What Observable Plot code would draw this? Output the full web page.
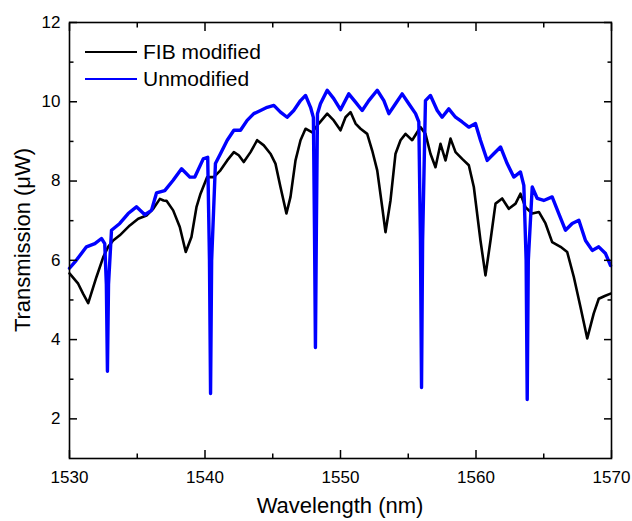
<!DOCTYPE html>
<html><head><meta charset="utf-8">
<script src="https://cdn.jsdelivr.net/npm/d3@7"></script>
<script src="https://cdn.jsdelivr.net/npm/@observablehq/plot@0.6"></script>
<style>body{margin:0;background:#fff;} #chart{width:632px;height:521px;}</style>
</head><body><div id="chart"></div>
<script>
// FIB modified (black)
const fibWl = [1530.0,1530.64,1531.0,1531.38,1531.99,1532.49,1532.85,1533.22,1533.71,1534.45,1535.07,1535.68,1536.18,1536.67,1536.94,1537.16,1537.65,1538.14,1538.58,1539.0,1539.37,1539.67,1540.16,1540.65,1541.14,1541.64,1542.13,1542.49,1542.86,1543.36,1543.85,1544.34,1544.83,1545.2,1545.57,1546.01,1546.31,1546.68,1547.05,1547.42,1547.91,1548.4,1549.02,1549.5,1550.0,1550.37,1550.74,1551.11,1551.48,1551.97,1552.34,1552.71,1553.08,1553.32,1553.69,1554.06,1554.43,1554.8,1555.29,1555.66,1555.9,1556.27,1556.64,1557.01,1557.38,1557.75,1558.12,1558.49,1558.98,1559.47,1559.84,1560.33,1560.7,1561.07,1561.44,1561.93,1562.42,1562.92,1563.28,1563.65,1564.15,1564.64,1565.13,1565.62,1566.24,1566.73,1567.22,1567.71,1568.21,1568.69,1569.06,1569.5,1569.93];
const fibT  = [5.67,5.41,5.16,4.92,5.58,6.08,6.34,6.50,6.63,6.88,7.05,7.13,7.30,7.55,7.51,7.50,7.26,6.84,6.21,6.59,7.34,7.68,8.10,8.10,8.27,8.52,8.73,8.65,8.48,8.73,9.03,8.90,8.69,8.44,7.85,7.18,7.60,8.52,9.03,9.32,9.23,9.45,9.70,9.53,9.28,9.61,9.74,9.45,9.32,9.19,8.77,8.27,7.34,6.71,7.51,8.69,9.03,9.19,9.03,9.23,9.36,9.19,8.69,8.35,8.94,8.52,9.07,8.73,8.56,8.40,7.85,6.50,5.62,6.50,7.43,7.56,7.30,7.43,7.68,7.34,7.18,7.22,6.93,6.46,6.34,6.21,5.58,4.82,4.03,4.66,5.03,5.10,5.16];

// Unmodified (blue)
const unmodWl = [1530.0,1530.5,1531.25,1531.87,1532.36,1532.6,1532.72,1532.8,1532.88,1533.1,1533.71,1534.33,1534.94,1535.56,1536.05,1536.42,1537.03,1537.65,1538.27,1538.88,1539.25,1539.87,1540.2,1540.33,1540.41,1540.49,1540.77,1541.14,1541.64,1542.13,1542.62,1543.11,1543.6,1544.1,1544.59,1545.08,1545.57,1546.06,1546.55,1547.05,1547.42,1547.79,1548.0,1548.08,1548.15,1548.22,1548.3,1548.52,1549.02,1549.5,1550.0,1550.61,1551.11,1551.6,1552.09,1552.71,1553.2,1553.57,1554.06,1554.55,1555.04,1555.54,1555.78,1555.9,1555.98,1556.06,1556.27,1556.64,1557.14,1557.5,1557.99,1558.49,1558.98,1559.47,1559.96,1560.33,1560.83,1561.31,1561.81,1562.3,1562.79,1563.28,1563.53,1563.7,1563.78,1563.86,1564.15,1564.52,1565.0,1565.62,1566.11,1566.6,1567.1,1567.59,1568.08,1568.58,1569.06,1569.56,1569.93];
const unmodT  = [5.80,6.00,6.34,6.42,6.55,6.42,5.40,3.20,5.40,6.76,6.93,7.18,7.35,7.15,7.26,7.70,7.76,8.02,8.31,8.10,8.10,8.56,8.60,6.00,2.64,6.00,8.44,8.69,9.03,9.28,9.28,9.53,9.70,9.78,9.86,9.91,9.74,9.61,9.78,10.03,10.16,9.86,9.60,6.80,3.80,6.80,9.70,9.95,10.29,10.08,9.80,10.20,9.99,9.78,10.03,10.29,10.03,9.70,9.95,10.20,9.95,9.70,9.49,6.50,2.79,6.50,10.03,10.16,9.78,9.61,9.82,9.61,9.49,9.36,9.45,9.03,8.52,8.69,8.86,8.44,8.10,8.23,7.89,6.00,2.49,6.00,7.85,7.56,7.51,7.60,7.18,6.76,6.93,7.01,6.50,6.25,6.34,6.17,5.87];

const seriesNames = ["FIB modified", "Unmodified"];
const seriesColors = ["#000000", "#0000ff"];

const xMajor = [1530, 1540, 1550, 1560, 1570];
const xMinor = [1535, 1545, 1555, 1565];
const yMajor = [2, 4, 6, 8, 10, 12];
const yMinor = [3, 5, 7, 9, 11];

const xTitle = "Wavelength (nm)";
const yTitle = "Transmission (\u03bcW)";

const fib = fibWl.map((x, i) => ({wl: x, t: fibT[i]}));
const unmod = unmodWl.map((x, i) => ({wl: x, t: unmodT[i]}));

const font = "'Liberation Sans', Arial, Helvetica, sans-serif";

function overlay(index, scales, values, dimensions) {
  const {width, height, marginLeft, marginRight, marginTop, marginBottom} = dimensions;
  const g = d3.create("svg:g").attr("font-family", font).attr("fill", "#000");
  const lx0 = marginLeft + 16, lx1 = marginLeft + 68;
  seriesNames.forEach((name, i) => {
    const cy = marginTop + 30 + i * 27;
    g.append("line").attr("x1", lx0).attr("x2", lx1).attr("y1", cy).attr("y2", cy)
      .attr("stroke", seriesColors[i]).attr("stroke-width", 2.2);
    g.append("text").attr("x", lx1 + 6).attr("y", cy + 7.3).attr("text-anchor", "start")
      .attr("font-size", 21).text(name);
  });
  g.append("text")
    .attr("x", (marginLeft + width - marginRight) / 2)
    .attr("y", height - 8)
    .attr("text-anchor", "middle").attr("font-size", 22).text(xTitle);
  g.append("text")
    .attr("transform", `translate(30,${(marginTop + height - marginBottom) / 2}) rotate(-90)`)
    .attr("text-anchor", "middle").attr("font-size", 22).text(yTitle);
  return g.node();
}

const tickStyle = {stroke: "#000", strokeWidth: 1.5, label: null, tickFormat: () => ""};

const chart = Plot.plot({
  width: 632, height: 521,
  marginLeft: 69, marginRight: 21, marginTop: 22, marginBottom: 63,
  style: {fontFamily: font, background: "#fff", color: "#000"},
  x: {domain: [1530, 1570]},
  y: {domain: [1, 12]},
  marks: [
    Plot.line(fib, {x: "wl", y: "t", stroke: seriesColors[0], strokeWidth: 2.6, strokeLinejoin: "round"}),
    Plot.line(unmod, {x: "wl", y: "t", stroke: seriesColors[1], strokeWidth: 3.4, strokeLinejoin: "round"}),
    // inward major & minor ticks on all four sides
    Plot.axisX({anchor: "bottom", ticks: xMajor, tickSize: -8, ...tickStyle}),
    Plot.axisX({anchor: "bottom", ticks: xMinor, tickSize: -4.5, ...tickStyle}),
    Plot.axisX({anchor: "top", ticks: xMajor, tickSize: -8, ...tickStyle}),
    Plot.axisX({anchor: "top", ticks: xMinor, tickSize: -4.5, ...tickStyle}),
    Plot.axisY({anchor: "left", ticks: yMajor, tickSize: -8, ...tickStyle}),
    Plot.axisY({anchor: "left", ticks: yMinor, tickSize: -4.5, ...tickStyle}),
    Plot.axisY({anchor: "right", ticks: yMajor, tickSize: -8, ...tickStyle}),
    Plot.axisY({anchor: "right", ticks: yMinor, tickSize: -4.5, ...tickStyle}),
    // tick labels
    Plot.axisX({anchor: "bottom", ticks: xMajor, tickSize: 0, tickPadding: 12.5, fontSize: 17, label: null, tickFormat: d => String(d)}),
    Plot.axisY({anchor: "left", ticks: yMajor, tickSize: 0, tickPadding: 9, fontSize: 17, label: null, tickFormat: d => String(d)}),
    Plot.frame({stroke: "#000", strokeWidth: 1.6}),
    overlay
  ]
});
document.getElementById("chart").appendChild(chart);
</script>
</body></html>
